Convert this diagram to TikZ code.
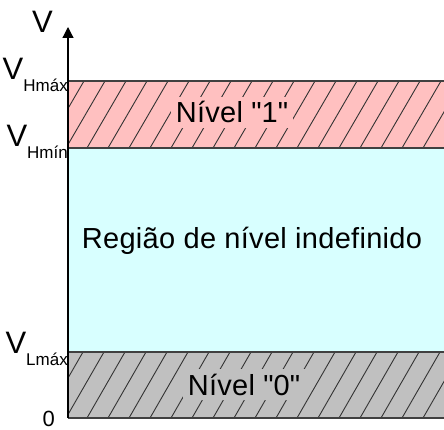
\documentclass[tikz,border=0pt]{standalone}
\usepackage{fontspec}
\setmainfont{Liberation Sans}
\usetikzlibrary{arrows.meta}

\definecolor{nivelum}{RGB}{255,192,192}
\definecolor{indef}{RGB}{216,255,255}
\definecolor{nivelzero}{RGB}{192,192,192}

\tikzstyle{lvl} = [anchor=base, inner sep=5pt, font=\fontsize{29}{32}\selectfont\addfontfeature{LetterSpace=1}]
\tikzstyle{vlab} = [anchor=base east, inner sep=0pt, font=\fontsize{31}{34}\selectfont]
\tikzstyle{edge} = [line width=1.4pt, black!75]
\tikzstyle{hatch} = [line width=0.9pt, black!80]

\newcommand{\sublab}[1]{\raisebox{-12pt}{\fontsize{17}{17}\selectfont#1}}

\begin{document}
\begin{tikzpicture}[x=1pt,y=-1pt]
\useasboundingbox (0,0) rectangle (444,430);

% bands
\fill[nivelum] (68,81) rectangle (444,148);
\fill[indef] (68,148) rectangle (444,352);
\fill[nivelzero] (68,352) rectangle (444,418);

% hatching
\begin{scope}
\clip (68,81) rectangle (444,148);
\foreach \x in {-60,-39,...,460}
  \draw[hatch] (\x,148) -- ++(39,-67);
\end{scope}
\begin{scope}
\clip (68,352) rectangle (444,418);
\foreach \x in {-60,-39,...,460}
  \draw[hatch] (\x,418) -- ++(38,-66);
\end{scope}

% level lines
\draw[edge] (68,81) -- (444,81);
\draw[edge] (68,148) -- (444,148);
\draw[edge] (68,352) -- (444,352);
\draw[edge] (68,418) -- (444,418);

% axis
\coordinate (origem) at (68,418);
\coordinate (topo) at (68,27);
\draw[line width=1.2pt, -{Triangle[length=11pt,width=11pt]}] (origem) -- (topo);

% labels
\node[anchor=base, inner sep=0pt, font=\fontsize{31}{34}\selectfont] (eixoV) at (42.5,33) {V};
\node[vlab] (VHmax) at (68,80) {V\sublab{Hmáx}};
\node[vlab] (VHmin) at (68,147) {V\sublab{Hmín}};
\node[vlab] (VLmax) at (68,353) {V\sublab{Lmáx}};
\node[anchor=base east, inner sep=0pt, font=\fontsize{22}{24}\selectfont] (zero) at (55,426) {0};

\node[lvl, fill=nivelum] (NivelUm) at (232,123) {Nível \textquotedbl 1\textquotedbl};
\node[lvl] (Indefinido) at (252,249) {Região de nível indefinido};
\node[lvl, fill=nivelzero] (NivelZero) at (244,395) {Nível \textquotedbl 0\textquotedbl};

\end{tikzpicture}
\end{document}
